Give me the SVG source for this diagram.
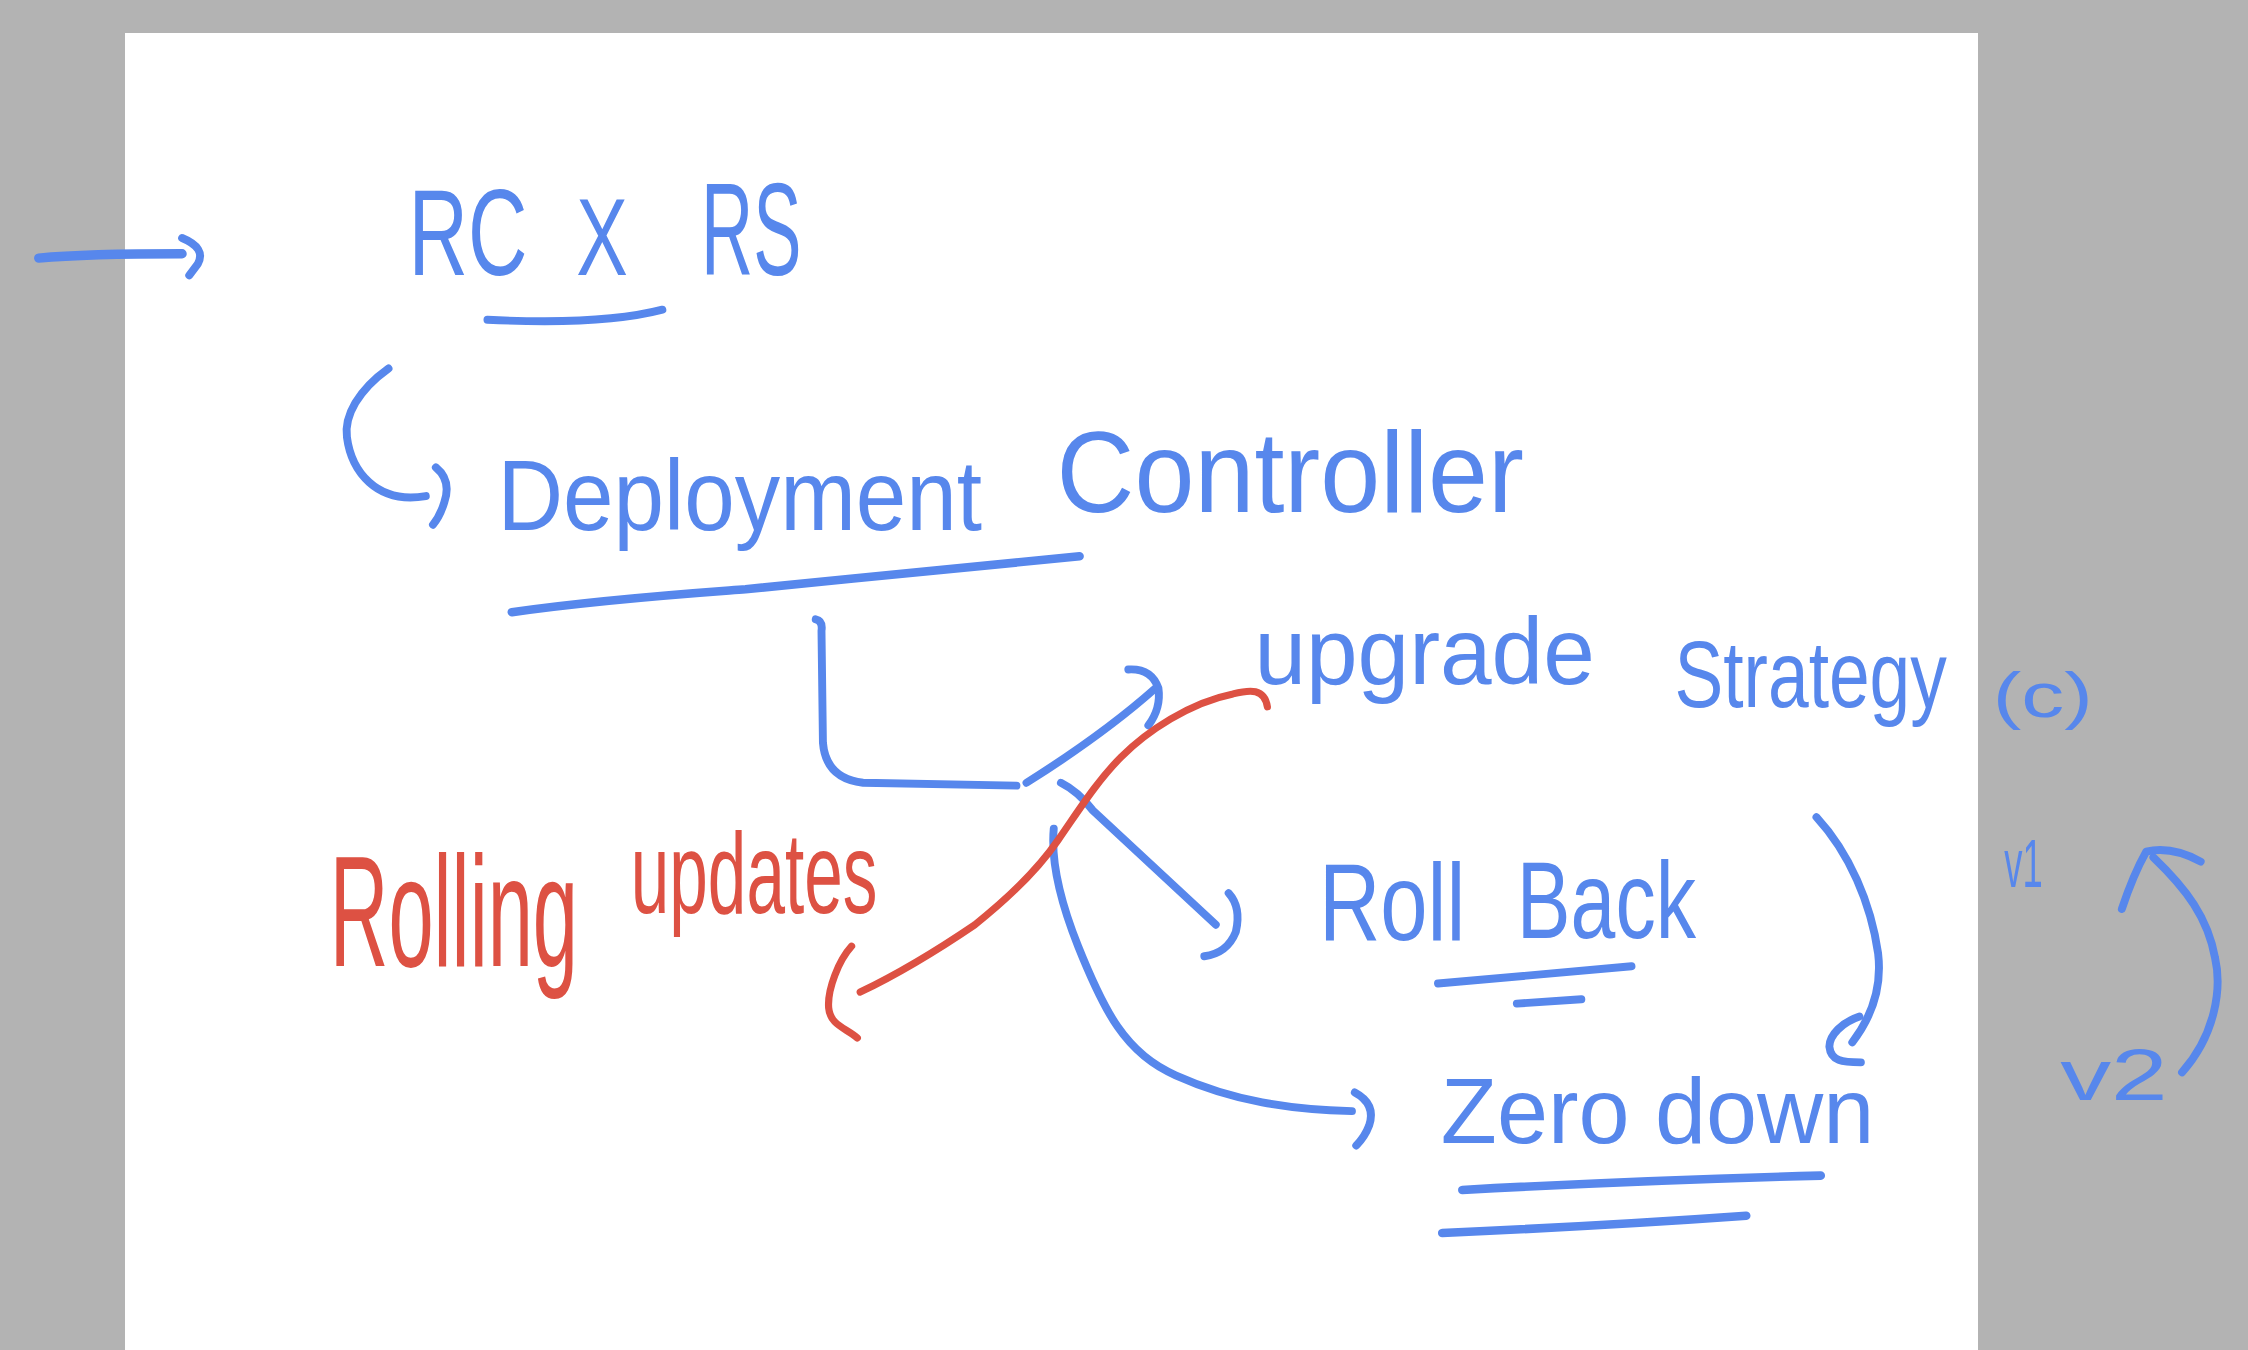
<svg xmlns="http://www.w3.org/2000/svg" width="2248" height="1350" viewBox="0 0 2248 1350">
<style>
.b{fill:#5787EC;font-family:"Liberation Sans","DejaVu Sans",sans-serif}
.r{fill:#DD5143;font-family:"Liberation Sans","DejaVu Sans",sans-serif}
.cb{fill:none;stroke:#5787EC;stroke-width:5.5;stroke-linecap:round;stroke-linejoin:round}
.cr{fill:none;stroke:#DD5143;stroke-width:5;stroke-linecap:round;stroke-linejoin:round}
</style>
<rect x="0" y="0" width="2248" height="1350" fill="#B3B3B3"/>
<rect x="125" y="33" width="1853" height="1317" fill="#FFFFFF"/>
<g transform="scale(1.43367)">
<g id="connectors">
<path class="cb" style="stroke-width:6.5" d="M27,180 Q60,177 127,177"/>
<path class="cb" d="M127,166 Q144,173 138,184 Q135,188 132,192"/>
<path class="cb" d="M340,223 Q420,227 462,216"/>
<path class="cb" d="M271,257 C250,272 240,290 242,305 C245,328 262,352 297,346"/>
<path class="cb" d="M304,326 Q315,335 310,350 Q307,360 302,366"/>
<path class="cb" style="stroke-width:6" d="M357,427 C420,418 480,414 520,411 C600,403 700,393 753,388"/>
<path class="cb" d="M569,432 Q574,433 573,440 L574,518 Q576,543 602,546 L709,548"/>
<path class="cb" d="M716,546 Q770,512 806,480"/>
<path class="cb" d="M787,467 Q803,466 808,480 Q810,494 801,506"/>
<path class="cb" d="M740,546 Q752,552 762,565 L848,645"/>
<path class="cb" d="M857,623 Q866,633 862,650 Q856,665 840,667"/>
<path class="cb" d="M735,578 C733,600 740,630 752,660 C770,705 785,735 820,750 C860,768 900,774 943,775"/>
<path class="cb" d="M945,762 Q960,770 955,785 Q952,793 946,799"/>
<path class="cr" d="M600,692 C625,680 655,662 680,645 C705,625 725,605 738,586 C752,566 765,545 782,528 C800,510 830,490 860,484 C872,481 882,480 884,493"/>
<path class="cr" d="M594,660 C585,670 577,690 578,703 C579,715 590,717 598,724"/>
<path class="cb" d="M1003,686 Q1070,680 1138,674"/>
<path class="cb" d="M1058,700 L1103,697"/>
<path class="cb" d="M1267,570 C1290,595 1305,630 1310,665 C1313,690 1305,710 1292,727"/>
<path class="cb" d="M1297,709 C1285,713 1276,722 1276,730 C1277,740 1285,741 1298,741"/>
<path class="cb" style="stroke-width:6" d="M1020,830 Q1150,823 1270,820"/>
<path class="cb" style="stroke-width:6" d="M1006,860 Q1120,855 1218,848"/>
<path class="cb" d="M1522,748 C1545,722 1550,690 1545,668 C1540,640 1525,620 1502,598"/>
<path class="cb" d="M1480,634 Q1488,610 1497,594 Q1515,590 1535,601"/>
</g>
<g id="n-rcrs">
<text class="b" font-size="85" transform="translate(285,192) scale(0.676,1)">RC</text>
<text class="b" font-size="76" transform="translate(402,192) scale(0.71,1)">X</text>
<text class="b" font-size="92" transform="translate(489,192) scale(0.548,1)">RS</text>
</g>
<g id="n-deploy">
<text class="b" font-size="70" transform="translate(347,370) scale(0.905,1)">Deployment</text>
<text class="b" font-size="80" transform="translate(737,357) scale(0.94,1)">Controller</text>
</g>
<g id="n-upgrade">
<text class="b" font-size="66" transform="translate(875,477) scale(0.98,1)">upgrade</text>
<text class="b" font-size="66" transform="translate(1168,493) scale(0.773,1)">Strategy</text>
<text class="b" font-size="44" transform="translate(1390,500) scale(1.36,1)">(c)</text>
</g>
<g id="n-rollback">
<text class="b" font-size="76" transform="translate(920,656) scale(0.78,1)">Roll</text>
<text class="b" font-size="76" transform="translate(1058,654) scale(0.74,1)">Back</text>
</g>
<g id="n-zero">
<text class="b" font-size="64" transform="translate(1005,797)">Zero down</text>
</g>
<g id="n-rolling">
<text class="r" font-size="110" transform="translate(230,674) scale(0.515,1)">Rolling</text>
<text class="r" font-size="80" transform="translate(440,637) scale(0.604,1)">updates</text>
</g>
<g id="n-versions">
<text class="b" font-size="48" transform="translate(1398,619) scale(0.53,1)">v1</text>
<text class="b" font-size="50" transform="translate(1437,767) scale(1.42,1)">v2</text>
</g>
</g>
</svg>
